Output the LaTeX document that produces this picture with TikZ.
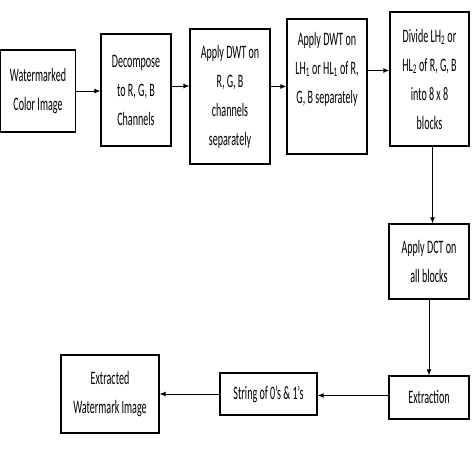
\documentclass[tikz,border=0pt]{standalone}
\usepackage{fontspec}
\setmainfont[FakeStretch=0.53]{Carlito}
\usetikzlibrary{arrows.meta, positioning}

\begin{document}
\begin{tikzpicture}[x=1pt,y=-1pt,
    box/.style={draw,line width=1.3pt,inner sep=0pt,align=center,
        font=\fontsize{19}{29}\selectfont},
    flow/.style={line width=0.9pt,-{Latex[length=6pt,width=5pt]}}]
    \useasboundingbox (0,0) rectangle (475,454);
    % top row
    \node[box,minimum width=75,minimum height=82] (wci) at (38,91) {Watermarked\\Color Image};
    \node[box,minimum width=70,minimum height=112] (rgb) at (136,90) {Decompose\\to R, G, B\\Channels};
    \node[box,minimum width=80,minimum height=135] (dwta) at (230,96.5) {Apply DWT on\\R, G, B\\channels\\separately};
    \node[box,minimum width=80,minimum height=135] (dwtb) at (327,86.5) {Apply DWT on\\LH\textsubscript{1} or HL\textsubscript{1} of R,\\G, B separately\\\strut};
    \node[box,minimum width=79,minimum height=134] (div) at (429.5,79) {Divide LH\textsubscript{2} or\\HL\textsubscript{2} of R, G, B\\into 8 x 8\\blocks};
    % right column and bottom row
    \node[box,minimum width=80,minimum height=75] (dct) at (429,261.5) {Apply DCT on\\all blocks};
    \node[box,minimum width=80,minimum height=43] (ext) at (429,397.5) {Extraction};
    \node[box,minimum width=97,minimum height=42] (bits) at (268.5,394) {String of 0's \& 1's};
    \node[box,minimum width=98,minimum height=78] (wmi) at (110,394) {Extracted\\Watermark Image};

    \draw[flow] (wci.east) -- (wci.east -| rgb.west);
    \draw[flow] ([yshift=4pt]rgb.east) -- ([yshift=4pt]rgb.east -| dwta.west);
    \draw[flow] ([yshift=10pt]dwta.east) -- ([yshift=10pt]dwta.east -| dwtb.west);
    \draw[flow] ([yshift=16pt]dwtb.east) -- ([yshift=16pt]dwtb.east -| div.west);
    \draw[flow] ([xshift=3pt]div.south) -- ([xshift=3pt]div.south |- dct.north);
    \draw[flow] (dct) -- (ext);
    \draw[flow] ([yshift=2pt]ext.west) -- ([yshift=2pt]ext.west -| bits.east);
    \draw[flow] (bits) -- (wmi);
\end{tikzpicture}
\end{document}
